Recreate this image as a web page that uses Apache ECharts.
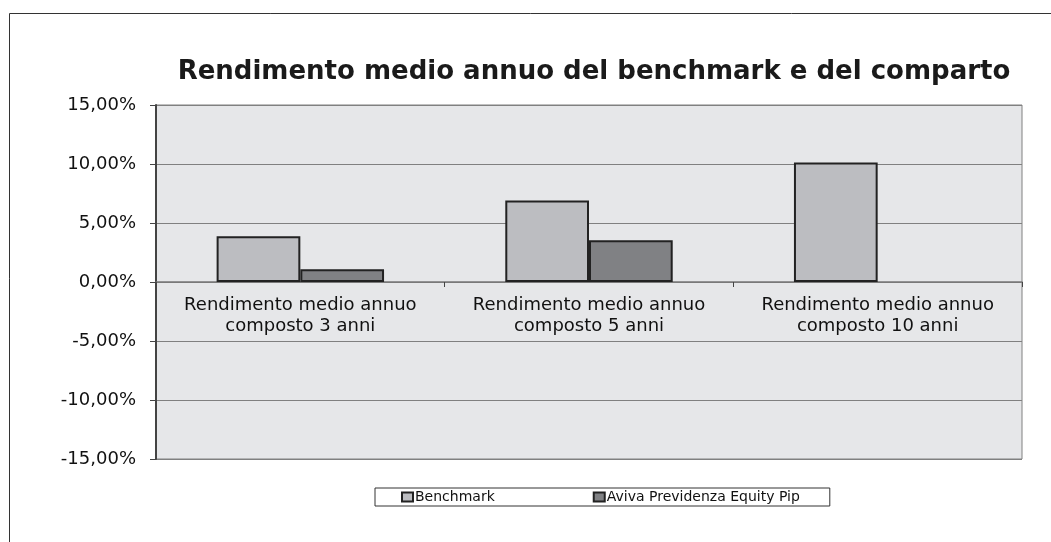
<!DOCTYPE html>
<html>
<head>
<meta charset="utf-8">
<script src="https://cdn.jsdelivr.net/npm/echarts@6/dist/echarts.min.js"></script>
<style>html,body{margin:0;padding:0;background:#fff;}#c{width:1051px;height:542px;}</style>
</head>
<body>
<div id="c"></div>
<script>
const categories = ["Rendimento medio annuo\ncomposto 3 anni", "Rendimento medio annuo\ncomposto 5 anni", "Rendimento medio annuo\ncomposto 10 anni"];
const benchmark = [3.88, 6.91, 10.12];
const aviva = [1.07, 3.54, null];
const seriesNames = ["Benchmark", "Aviva Previdenza Equity Pip"];
const yTicks = { min: -15, max: 15, interval: 5 };

const chart = echarts.init(document.getElementById('c'), null, { renderer: 'canvas' });
const font = 'DejaVu Sans';
chart.setOption({
  animation: false,
  backgroundColor: '#fff',
  title: {
    text: 'Rendimento medio annuo del benchmark e del comparto',
    left: 589, top: 54, textAlign: 'center',
    textStyle: { fontFamily: font, fontWeight: 'bold', fontSize: 26, color: '#1a1a1a' }
  },
  graphic: [{
    type: 'rect', shape: { x: 9.5, y: 13.5, width: 1100, height: 600 },
    style: { fill: null, stroke: '#333', lineWidth: 1 }, silent: true, z: -1
  }],
  legend: {
    left: 375, top: 488,
    icon: 'rect',
    itemWidth: 11, itemHeight: 9, itemGap: 98,
    padding: [2, 30, 2, 26],
    borderColor: '#333', borderWidth: 1,
    textStyle: { fontFamily: font, fontSize: 14, color: '#111', padding: [0, 0, 0, -3] },
    data: seriesNames
  },
  grid: { left: 156, right: 29, top: 105, bottom: 83, show: true, backgroundColor: '#e6e7e9', borderColor: '#808080', borderWidth: 1 },
  xAxis: {
    type: 'category', data: categories,
    offset: -177,
    axisLine: { onZero: false, lineStyle: { color: '#777', width: 1.5 } },
    axisTick: { show: true, interval: 0, length: 5, lineStyle: { color: '#444' } },
    axisLabel: { interval: 0, hideOverlap: false, fontFamily: font, fontSize: 18, color: '#111', margin: 13, lineHeight: 21 }
  },
  yAxis: {
    type: 'value', min: yTicks.min, max: yTicks.max, interval: yTicks.interval,
    axisLine: { show: true, lineStyle: { color: '#444', width: 2 } },
    axisTick: { show: true, length: 6, lineStyle: { color: '#444' } },
    splitLine: { lineStyle: { color: '#808080', width: 1.2 } },
    axisLabel: { fontFamily: font, fontSize: 18, color: '#111', margin: 20,
      formatter: v => v.toFixed(2).replace('.', ',') + '%' }
  },
  series: [
    { name: seriesNames[0], type: 'bar', data: benchmark, barGap: '0%', barCategoryGap: '42%',
      itemStyle: { color: '#bcbdc1', borderColor: '#222', borderWidth: 2 } },
    { name: seriesNames[1], type: 'bar', data: aviva, barGap: '0%', barCategoryGap: '42%',
      itemStyle: { color: '#808184', borderColor: '#222', borderWidth: 2 } }
  ]
});
</script>
</body>
</html>
